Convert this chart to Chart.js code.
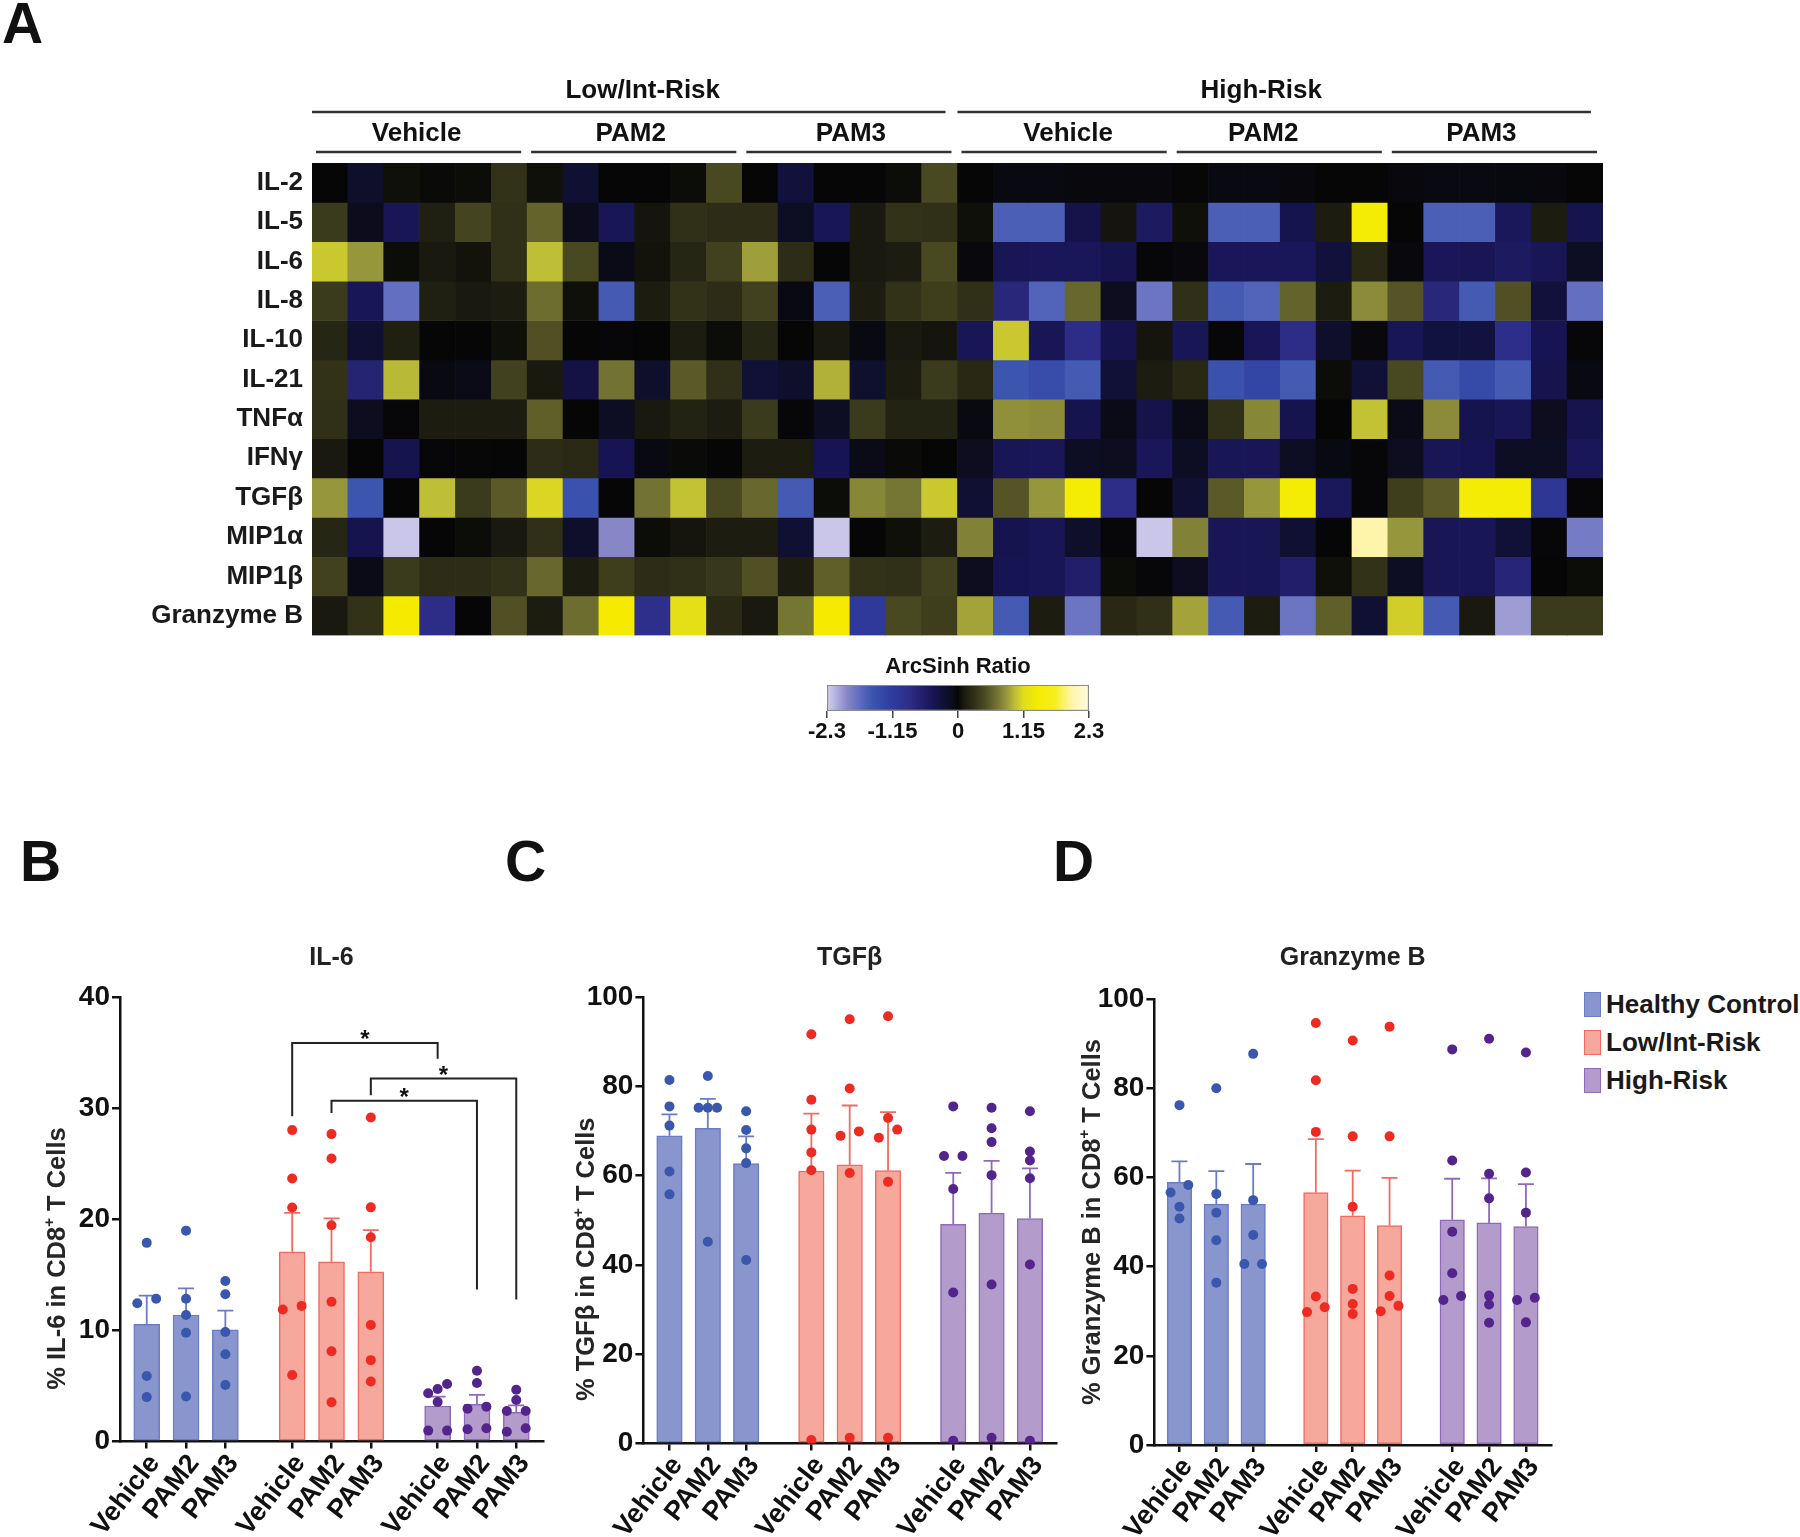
<!DOCTYPE html>
<html>
<head>
<meta charset="utf-8">
<script src="https://cdn.jsdelivr.net/npm/chart.js@4.4.1/dist/chart.umd.min.js"></script>
<style>
  body { margin: 0; background: #fff; width: 1800px; height: 1537px; overflow: hidden; position: relative;
         font-family: "Liberation Sans", Arial, sans-serif; color: #111; }
  canvas { position: absolute; }
  .letter { position: absolute; font-weight: bold; font-size: 57px; line-height: 57px; }
  .leg { position: absolute; left: 1584px; height: 25px; }
  .leg i { position: absolute; left: 0; top: 0; width: 15px; height: 23px; border: 1px solid; }
  .leg span { position: absolute; left: 22px; top: 0; line-height: 25px; font-size: 26px; font-weight: bold; white-space: nowrap; color: #1a1a1a; }
</style>
</head>
<body>
<div class="letter" style="left:2px;top:-5px">A</div>
<div class="letter" style="left:20px;top:833px">B</div>
<div class="letter" style="left:505px;top:833px">C</div>
<div class="letter" style="left:1053px;top:833px">D</div>

<canvas id="heat" width="1640" height="600" style="left:0;top:60px"></canvas>
<canvas id="cbar" width="400" height="110" style="left:760px;top:640px"></canvas>
<canvas id="chB" width="560" height="607" style="left:0;top:930px"></canvas>
<canvas id="chC" width="570" height="607" style="left:500px;top:930px"></canvas>
<canvas id="chD" width="570" height="607" style="left:1000px;top:930px"></canvas>

<div class="leg" style="top:992px"><i style="background:#8996cd;border-color:#6a7cc6"></i><span>Healthy Control</span></div>
<div class="leg" style="top:1030px"><i style="background:#f6a89d;border-color:#f26b5f"></i><span>Low/Int-Risk</span></div>
<div class="leg" style="top:1068px"><i style="background:#b39bcc;border-color:#8e6bb8"></i><span>High-Risk</span></div>

<script>
// ---- heatmap (ArcSinh ratio), 36 samples per cytokine ----
const cytokines = ['IL-2','IL-5','IL-6','IL-8','IL-10','IL-21','TNFα','IFNγ','TGFβ','MIP1α','MIP1β','Granzyme B'];
const riskGroups = ['Low/Int-Risk','High-Risk'];
const treatments = ['Vehicle','PAM2','PAM3'];

const il2  = [0,-0.2,0.05,0.02,0.03,0.3, 0.05,-0.25,0,0,0.03,0.45, 0,-0.3,0,0,0.03,0.45, 0,-0.05,-0.05,-0.03,-0.03,-0.03, -0.01,-0.05,-0.05,-0.03,0,0, -0.03,-0.05,-0.05,-0.04,-0.03,0];
const il5  = [0.35,-0.1,-0.45,0.15,0.42,0.28, 0.6,-0.1,-0.45,0.08,0.28,0.25, 0.25,-0.15,-0.45,0.1,0.3,0.28, 0.05,-1.6,-1.6,-0.38,0.08,-0.55, 0.05,-1.6,-1.6,-0.4,0.12,1.45, 0,-1.6,-1.6,-0.5,0.12,-0.4];
const il6  = [1.05,0.85,0.03,0.1,0.07,0.28, 1.0,0.45,-0.08,0.07,0.2,0.4, 0.88,0.25,0,0.1,0.12,0.45, -0.03,-0.45,-0.48,-0.48,-0.4,-0.02, -0.03,-0.48,-0.48,-0.48,-0.3,0.22, -0.03,-0.48,-0.45,-0.55,-0.45,-0.15];
const il8  = [0.35,-0.45,-1.75,0.15,0.1,0.12, 0.65,0.05,-1.55,0.12,0.3,0.25, 0.4,-0.05,-1.6,0.12,0.3,0.38, 0.28,-0.75,-1.65,0.62,-0.12,-1.8, 0.28,-1.55,-1.65,0.6,0.12,0.8, 0.52,-0.75,-1.55,0.5,-0.3,-1.75];
const il10 = [0.2,-0.25,0.15,0,0,0.05, 0.5,0,-0.02,0,0.12,0.03, 0.2,0,0.1,-0.05,0.1,0.08, -0.45,1.05,-0.45,-0.85,-0.4,0.08, -0.45,-0.02,-0.45,-0.85,-0.2,-0.03, -0.45,-0.32,-0.32,-0.88,-0.42,-0.02];
const il21 = [0.3,-0.7,0.98,-0.05,-0.08,0.4, 0.1,-0.35,0.68,-0.2,0.55,0.28, -0.28,-0.2,0.95,-0.22,0.12,0.35, 0.22,-1.5,-1.4,-1.55,-0.28,0.12, 0.22,-1.45,-1.3,-1.55,0.03,-0.28, 0.45,-1.55,-1.35,-1.55,-0.4,-0.05];
const tnfa = [0.28,-0.12,-0.02,0.12,0.12,0.12, 0.58,0,-0.15,0.1,0.18,0.12, 0.35,-0.02,-0.15,0.35,0.18,0.18, -0.05,0.82,0.8,-0.4,-0.08,-0.38, -0.08,0.28,0.78,-0.4,0,1.02, -0.08,0.8,-0.4,-0.45,-0.12,-0.4];
const ifng = [0.1,0,-0.4,-0.02,-0.01,0, 0.25,0.23,-0.42,-0.05,0.02,0, 0.12,0.12,-0.42,-0.08,0.02,0, -0.12,-0.45,-0.48,-0.15,-0.12,-0.48, -0.15,-0.45,-0.45,-0.15,-0.05,-0.02, -0.12,-0.45,-0.42,-0.15,-0.15,-0.48];
const tgfb = [0.85,-1.5,0,1.0,0.35,0.55, 1.12,-1.45,0,0.68,1.02,0.45, 0.62,-1.55,0.03,0.78,0.7,1.05, -0.25,0.52,0.85,1.45,-0.85,0, -0.25,0.55,0.85,1.45,-0.5,-0.02, 0.38,0.55,1.45,1.45,-1.05,-0.02];
const mip1a = [0.2,-0.4,-2.25,0,0.03,0.1, 0.28,-0.2,-1.95,0.03,0.08,0.12, 0.12,-0.25,-2.25,0,0.05,0.12, 0.75,-0.4,-0.45,-0.2,-0.02,-2.25, 0.75,-0.45,-0.45,-0.25,0,2.0, 0.85,-0.45,-0.45,-0.28,-0.02,-1.85];
const mip1b = [0.4,-0.08,0.35,0.25,0.25,0.3, 0.62,0.12,0.38,0.25,0.28,0.33, 0.5,0.12,0.58,0.3,0.28,0.4, -0.12,-0.42,-0.45,-0.62,0.03,-0.02, -0.12,-0.45,-0.45,-0.62,0.05,0.3, -0.15,-0.45,-0.45,-0.72,0,0.03];
const gzmb = [0.1,0.3,1.4,-0.85,0,0.5, 0.12,0.65,1.4,-0.9,1.2,0.23, 0.1,0.7,1.4,-1.1,0.45,0.38, 0.9,-1.55,0.12,-1.8,0.22,0.28, 0.9,-1.55,0.12,-1.8,0.58,-0.25, 1.08,-1.55,0.1,-2.05,0.35,0.35];
const heatRows = [il2, il5, il6, il8, il10, il21, tnfa, ifng, tgfb, mip1a, mip1b, gzmb];

const cbTicks = [-2.3, -1.15, 0, 1.15, 2.3];

// ---- bar panels: mean, SEM and single donors ----
const barLabels = ['Vehicle','PAM2','PAM3','Vehicle','PAM2','PAM3','Vehicle','PAM2','PAM3'];
const groupNames = ['Healthy Control','Low/Int-Risk','High-Risk'];

const il6Mean = [10.55, 11.4, 10.06, 17.1, 16.2, 15.3, 3.2, 3.35, 2.63];
const il6Sem  = [2.6, 2.4, 1.74, 3.5, 3.9, 3.75, 0.84, 0.85, 0.63];
const il6Points = [
  [17.9, 12.46, 12.87, 5.9, 4.0], [19.0, 12.87, 11.4, 9.8, 4.05], [14.47, 13.27, 9.86, 7.86, 5.09],
  [28.06, 23.7, 21.08, 12.22, 11.9, 6.0], [27.7, 25.5, 19.48, 12.6, 8.14, 3.53], [29.2, 21.1, 18.4, 10.5, 7.33, 5.4],
  [5.18, 4.73, 4.34, 3.56, 0.98, 0.98], [6.38, 5.27, 3.14, 2.96, 1.19, 1.1], [4.67, 3.74, 2.75, 2.75, 1.19, 0.88]
];
const sigPairs = [[3, 6], [4, 7], [5, 8]];
const sigLevel = [35.9, 30.7, 32.7];
const sigLeftEnd = [29.3, 29.6, 31.2];
const sigRightEnd = [34.5, 13.7, 12.8];

const tgfbMean = [68.9, 70.6, 62.7, 61.0, 62.4, 61.1, 49.1, 51.6, 50.4];
const tgfbSem  = [4.8, 6.6, 6.1, 12.9, 13.3, 13.1, 11.5, 11.7, 11.2];
const tgfbPoints = [
  [81.4, 75.5, 71.2, 60.9, 55.8], [82.3, 75.2, 75.2, 75.2, 45.2], [74.4, 70.2, 66.1, 62.8, 41.1],
  [91.65, 77.0, 70.3, 65.2, 61.2, 0.8], [95.0, 79.5, 69.9, 68.9, 60.6, 1.3], [95.7, 72.9, 70.3, 68.5, 58.6, 1.3],
  [75.5, 64.4, 64.4, 57.0, 33.8, 0.6], [75.2, 70.6, 67.5, 60.1, 35.6, 1.3], [74.4, 65.4, 63.4, 59.4, 40.1, 0.6]
];

const gzmbMean = [58.9, 54.0, 54.0, 56.6, 51.4, 49.2, 50.5, 49.8, 49.0];
const gzmbSem  = [4.7, 7.4, 9.0, 12.0, 10.1, 10.7, 9.2, 10.0, 9.5];
const gzmbPoints = [
  [76.2, 58.3, 56.6, 53.4, 50.8], [80.0, 56.3, 52.1, 45.9, 36.4], [87.7, 54.9, 47.1, 40.6, 40.6],
  [94.6, 81.8, 70.2, 33.3, 30.9, 29.8], [90.7, 69.2, 53.4, 35.0, 31.6, 29.4], [93.8, 69.2, 38.0, 33.4, 31.2, 30.0],
  [88.7, 63.8, 47.8, 38.5, 33.4, 32.5], [91.1, 60.8, 55.3, 33.5, 31.5, 27.4], [88.0, 61.1, 52.1, 33.0, 32.5, 27.5]
];

// ---- styling ----
const FONT = '"Liberation Sans", Arial, sans-serif';
Chart.defaults.font.family = FONT;
Chart.defaults.color = '#111';

const barPos = [0, 1, 2, 3.7, 4.7, 5.7, 7.4, 8.4, 9.4];
const fillCol = ['#8996cd', '#f6a89d', '#b39bcc'];
const edgeCol = ['#6a7cc6', '#f26b5f', '#8e6bb8'];
const dotCol  = ['#3857ad', '#ee2b22', '#52248c'];

const colorStops = [
  [-2.3, [212,208,240]], [-1.95, [135,135,200]], [-1.7, [90,105,190]], [-1.5, [60,85,175]],
  [-1.2, [48,62,160]], [-0.85, [45,45,135]], [-0.6, [32,30,102]], [-0.42, [22,20,82]],
  [-0.25, [16,16,50]], [-0.1, [12,12,28]], [0, [6,6,6]], [0.1, [25,25,15]], [0.3, [50,50,25]],
  [0.5, [80,80,36]], [0.7, [118,118,52]], [0.85, [150,150,60]], [1.0, [190,190,55]],
  [1.15, [225,220,30]], [1.4, [245,235,0]], [1.7, [246,238,30]], [2.0, [255,245,170]], [2.3, [255,250,225]]
];

function arcColor(v) {
  if (v <= colorStops[0][0]) return 'rgb(' + colorStops[0][1] + ')';
  for (let i = 1; i < colorStops.length; i++) {
    const [v1, c1] = colorStops[i];
    if (v <= v1) {
      const [v0, c0] = colorStops[i - 1];
      const t = (v - v0) / (v1 - v0);
      return 'rgb(' + c0.map((c, k) => Math.round(c + (c1[k] - c) * t)).join(',') + ')';
    }
  }
  return 'rgb(' + colorStops[colorStops.length - 1][1] + ')';
}

// heatmap column headers (label nudges in px, as set in the figure)
const groupNudge = [8, -19];
const subNudge = [[-3, -4, 1], [3, -17, -14]];
const headerPlugin = {
  id: 'heatHeader',
  afterDraw(chart) {
    const ctx = chart.ctx, x = chart.scales.x, top = chart.chartArea.top;
    const cw = x.getPixelForValue(1) - x.getPixelForValue(0);
    const left = i => x.getPixelForValue(i) - cw / 2;
    ctx.save();
    ctx.fillStyle = '#111';
    ctx.strokeStyle = '#333';
    ctx.lineWidth = 2.5;
    ctx.textAlign = 'center';
    ctx.textBaseline = 'middle';
    ctx.font = 'bold 26px ' + FONT;
    riskGroups.forEach((g, gi) => {
      const x0 = left(gi * 18), x1 = x0 + 18 * cw;
      ctx.fillText(g, (x0 + x1) / 2 + groupNudge[gi], top - 72);
      ctx.beginPath(); ctx.moveTo(x0, top - 51); ctx.lineTo(x1 - 12, top - 51); ctx.stroke();
      treatments.forEach((t, ti) => {
        const s0 = left(gi * 18 + ti * 6), s1 = s0 + 6 * cw;
        ctx.fillText(t, (s0 + s1) / 2 + subNudge[gi][ti], top - 29);
        ctx.beginPath(); ctx.moveTo(s0 + 4, top - 11); ctx.lineTo(s1 - 6, top - 11); ctx.stroke();
      });
    });
    ctx.restore();
  }
};

const colLabels = [];
riskGroups.forEach(g => treatments.forEach(t => { for (let d = 1; d <= 6; d++) colLabels.push(g + ' ' + t + ' ' + d); }));

new Chart(document.getElementById('heat'), {
  type: 'bar',
  data: {
    labels: colLabels,
    datasets: heatRows.map((row, i) => ({
      label: cytokines[i],
      data: row.map(() => 1),
      backgroundColor: row.map(arcColor),
      borderWidth: 0,
      barPercentage: 1,
      categoryPercentage: 1
    }))
  },
  options: {
    responsive: false,
    animation: false,
    layout: { padding: { top: 103, right: 37, bottom: 14, left: 0 } },
    plugins: { legend: { display: false }, tooltip: { enabled: false } },
    scales: {
      x: { display: false, stacked: true },
      y: {
        stacked: true, reverse: true, min: 0, max: 12,
        grid: { display: false, drawTicks: false }, border: { display: false },
        afterBuildTicks: s => { s.ticks = cytokines.map((c, i) => ({ value: i + 0.5 })); },
        afterFit: s => { s.width = 312; },
        ticks: { callback: v => cytokines[Math.floor(v)], font: { size: 26, weight: 'bold' }, color: '#1a1a1a', padding: 9, autoSkip: false }
      }
    }
  },
  plugins: [headerPlugin]
});

// colour key
new Chart(document.getElementById('cbar'), {
  type: 'bar',
  data: {
    labels: ['ArcSinh Ratio'],
    datasets: [{
      data: [[cbTicks[0], cbTicks[cbTicks.length - 1]]],
      backgroundColor: c => {
        const a = c.chart.chartArea;
        if (!a) return '#000';
        const g = c.chart.ctx.createLinearGradient(a.left, 0, a.right, 0);
        colorStops.forEach(([v, rgb]) => g.addColorStop((v + 2.3) / 4.6, 'rgb(' + rgb + ')'));
        return g;
      },
      borderColor: '#8a8a8a', borderWidth: 1.5, borderSkipped: false,
      barPercentage: 1, categoryPercentage: 1
    }]
  },
  options: {
    indexAxis: 'y',
    responsive: false,
    animation: false,
    layout: { padding: { left: 67, right: 71, top: 0, bottom: 0 } },
    plugins: {
      legend: { display: false }, tooltip: { enabled: false },
      title: { display: true, fullSize: false, text: 'ArcSinh Ratio', color: '#111', font: { size: 22, weight: 'bold' }, padding: { top: 13.5, bottom: 5 } }
    },
    scales: {
      y: { display: false },
      x: {
        type: 'linear', min: -2.3, max: 2.3,
        afterBuildTicks: s => { s.ticks = cbTicks.map(v => ({ value: v })); },
        afterFit: s => { s.height = 39; },
        ticks: { callback: v => String(v), font: { size: 22, weight: 'bold' }, color: '#111', padding: 1, maxRotation: 0, autoSkip: false },
        grid: { drawOnChartArea: false, tickLength: 7, color: '#444', lineWidth: 1.5 },
        border: { display: false }
      }
    }
  }
});

// spread donors that overlap at the same height (GraphPad style scatter)
function swarm(vals, thr, step) {
  const idx = vals.map((v, i) => i).sort((a, b) => vals[a] - vals[b]);
  const off = vals.map(() => 0);
  let run = [idx[0]];
  const flush = () => {
    const n = run.length;
    run.forEach((id, j) => { off[id] = n === 2 ? (j ? step : -step) : (j - (n - 1) / 2) * step; });
  };
  for (let i = 1; i < idx.length; i++) {
    if (vals[idx[i]] - vals[idx[i - 1]] < thr) run.push(idx[i]);
    else { flush(); run = [idx[i]]; }
  }
  flush();
  return off;
}

const errorBarPlugin = {
  id: 'errBars',
  afterDatasetDraw(chart, args) {
    const ds = chart.data.datasets[args.index];
    if (!ds.sem) return;
    const y = chart.scales.y, ctx = chart.ctx;
    ctx.save();
    ctx.strokeStyle = ds.borderColor;
    ctx.lineWidth = 1.8;
    args.meta.data.forEach((el, i) => {
      const top = y.getPixelForValue(ds.data[i].y + ds.sem[i]);
      ctx.beginPath();
      ctx.moveTo(el.x, el.y); ctx.lineTo(el.x, top);
      ctx.moveTo(el.x - 8, top); ctx.lineTo(el.x + 8, top);
      ctx.stroke();
    });
    ctx.restore();
  }
};

const yTitlePlugin = {
  id: 'yTitle',
  afterDraw(chart, args, o) {
    if (!o || !o.pre) return;
    const ctx = chart.ctx, a = chart.chartArea;
    const big = 'bold 25.5px ' + FONT, small = 'bold 15px ' + FONT;
    ctx.save();
    ctx.translate(o.x, (a.top + a.bottom) / 2 + o.shift);
    ctx.rotate(-Math.PI / 2);
    ctx.fillStyle = '#262626';
    ctx.textBaseline = 'middle';
    ctx.textAlign = 'left';
    ctx.font = big;
    const w1 = ctx.measureText(o.pre).width, w3 = ctx.measureText(o.post).width;
    ctx.font = small;
    const w2 = ctx.measureText('+').width;
    const x0 = -(w1 + w2 + w3) / 2;
    ctx.font = big; ctx.fillText(o.pre, x0, 0);
    ctx.font = small; ctx.fillText('+', x0 + w1, -8);
    ctx.font = big; ctx.fillText(o.post, x0 + w1 + w2, 0);
    ctx.restore();
  }
};

const sigPlugin = {
  id: 'sig',
  afterDatasetsDraw(chart, args, o) {
    if (!o || !o.pairs) return;
    const x = chart.scales.x, y = chart.scales.y, ctx = chart.ctx;
    ctx.save();
    ctx.strokeStyle = '#222';
    ctx.fillStyle = '#111';
    ctx.lineWidth = 2;
    ctx.font = 'bold 24px ' + FONT;
    ctx.textAlign = 'center';
    ctx.textBaseline = 'alphabetic';
    o.pairs.forEach((p, i) => {
      const x1 = x.getPixelForValue(barPos[p[0]]), x2 = x.getPixelForValue(barPos[p[1]]);
      const yl = y.getPixelForValue(o.level[i]);
      ctx.beginPath();
      ctx.moveTo(x1, y.getPixelForValue(o.leftEnd[i]));
      ctx.lineTo(x1, yl); ctx.lineTo(x2, yl);
      ctx.lineTo(x2, y.getPixelForValue(o.rightEnd[i]));
      ctx.stroke();
      ctx.fillText('*', (x1 + x2) / 2, yl + 4);
    });
    ctx.restore();
  }
};

function makePanel(p) {
  const datasets = [];
  groupNames.forEach((g, gi) => {
    const ks = [0, 1, 2].map(t => gi * 3 + t);
    datasets.push({
      type: 'bar', label: g, order: 2, grouped: false,
      data: ks.map(k => ({ x: barPos[k], y: p.mean[k] })),
      sem: ks.map(k => p.sem[k]),
      backgroundColor: fillCol[gi], borderColor: edgeCol[gi], borderWidth: 1.5, borderSkipped: false,
      barThickness: p.barW
    });
  });
  groupNames.forEach((g, gi) => {
    const pts = [];
    [0, 1, 2].forEach(t => {
      const k = gi * 3 + t;
      const off = swarm(p.pts[k], 0.019 * p.yMax, 0.24);
      p.pts[k].forEach((v, j) => pts.push({ x: barPos[k] + off[j], y: v }));
    });
    datasets.push({
      type: 'scatter', label: g + ' donors', order: 1, data: pts,
      pointRadius: 5, pointBackgroundColor: dotCol[gi], pointBorderWidth: 0
    });
  });

  new Chart(document.getElementById(p.id), {
    type: 'bar',
    data: { datasets },
    options: {
      responsive: false,
      animation: false,
      layout: { padding: { left: 0, right: p.padR, top: 0, bottom: 0 } },
      plugins: {
        legend: { display: false }, tooltip: { enabled: false },
        title: { display: true, fullSize: false, text: p.title, color: '#222', font: { size: 25, weight: 'bold' }, padding: { top: 13, bottom: p.titlePB } },
        yTitle: { x: p.yTitleX, shift: p.yShift, pre: p.pre, post: ' T Cells' },
        sig: p.sig || {}
      },
      scales: {
        x: {
          type: 'linear', min: -0.68, max: 10.08, offset: false,
          afterBuildTicks: s => { s.ticks = barPos.map(v => ({ value: v })); },
          afterFit: s => { s.height = p.xH; },
          ticks: { callback: (v, i) => barLabels[i], font: { size: 27, weight: 'bold' }, color: '#111',
                   minRotation: 52, maxRotation: 52, autoSkip: false, padding: 0, labelOffset: 8 },
          grid: { drawOnChartArea: false, offset: false, tickLength: 7, color: '#111', lineWidth: 2.5 },
          border: { display: true, color: '#111', width: 2.5 }
        },
        y: {
          min: 0, max: p.yMax,
          afterFit: s => { s.width = p.yW; },
          ticks: { stepSize: p.step, font: { size: 28, weight: 'bold' }, color: '#111', padding: 2 },
          grid: { drawOnChartArea: false, tickLength: 8, color: '#111', lineWidth: 2.5 },
          border: { display: true, color: '#111', width: 2.5 }
        }
      }
    },
    plugins: [errorBarPlugin, yTitlePlugin, sigPlugin]
  });
}

makePanel({ id: 'chB', title: 'IL-6', mean: il6Mean, sem: il6Sem, pts: il6Points, yMax: 40, step: 10,
  yW: 120, padR: 17, titlePB: 24.6, xH: 95.5, yTitleX: 58, yShift: 39, pre: '% IL-6 in CD8', barW: 26,
  sig: { pairs: sigPairs, level: sigLevel, leftEnd: sigLeftEnd, rightEnd: sigRightEnd } });
makePanel({ id: 'chC', title: 'TGFβ', mean: tgfbMean, sem: tgfbSem, pts: tgfbPoints, yMax: 100, step: 20,
  yW: 143.4, padR: 14, titlePB: 24, xH: 93.5, yTitleX: 87, yShift: 39, pre: '% TGFβ in CD8', barW: 25.5 });
makePanel({ id: 'chD', title: 'Granzyme B', mean: gzmbMean, sem: gzmbSem, pts: gzmbPoints, yMax: 100, step: 20,
  yW: 154.4, padR: 19, titlePB: 26, xH: 92, yTitleX: 93, yShift: 0, pre: '% Granzyme B in CD8', barW: 24.5 });
</script>
</body>
</html>
